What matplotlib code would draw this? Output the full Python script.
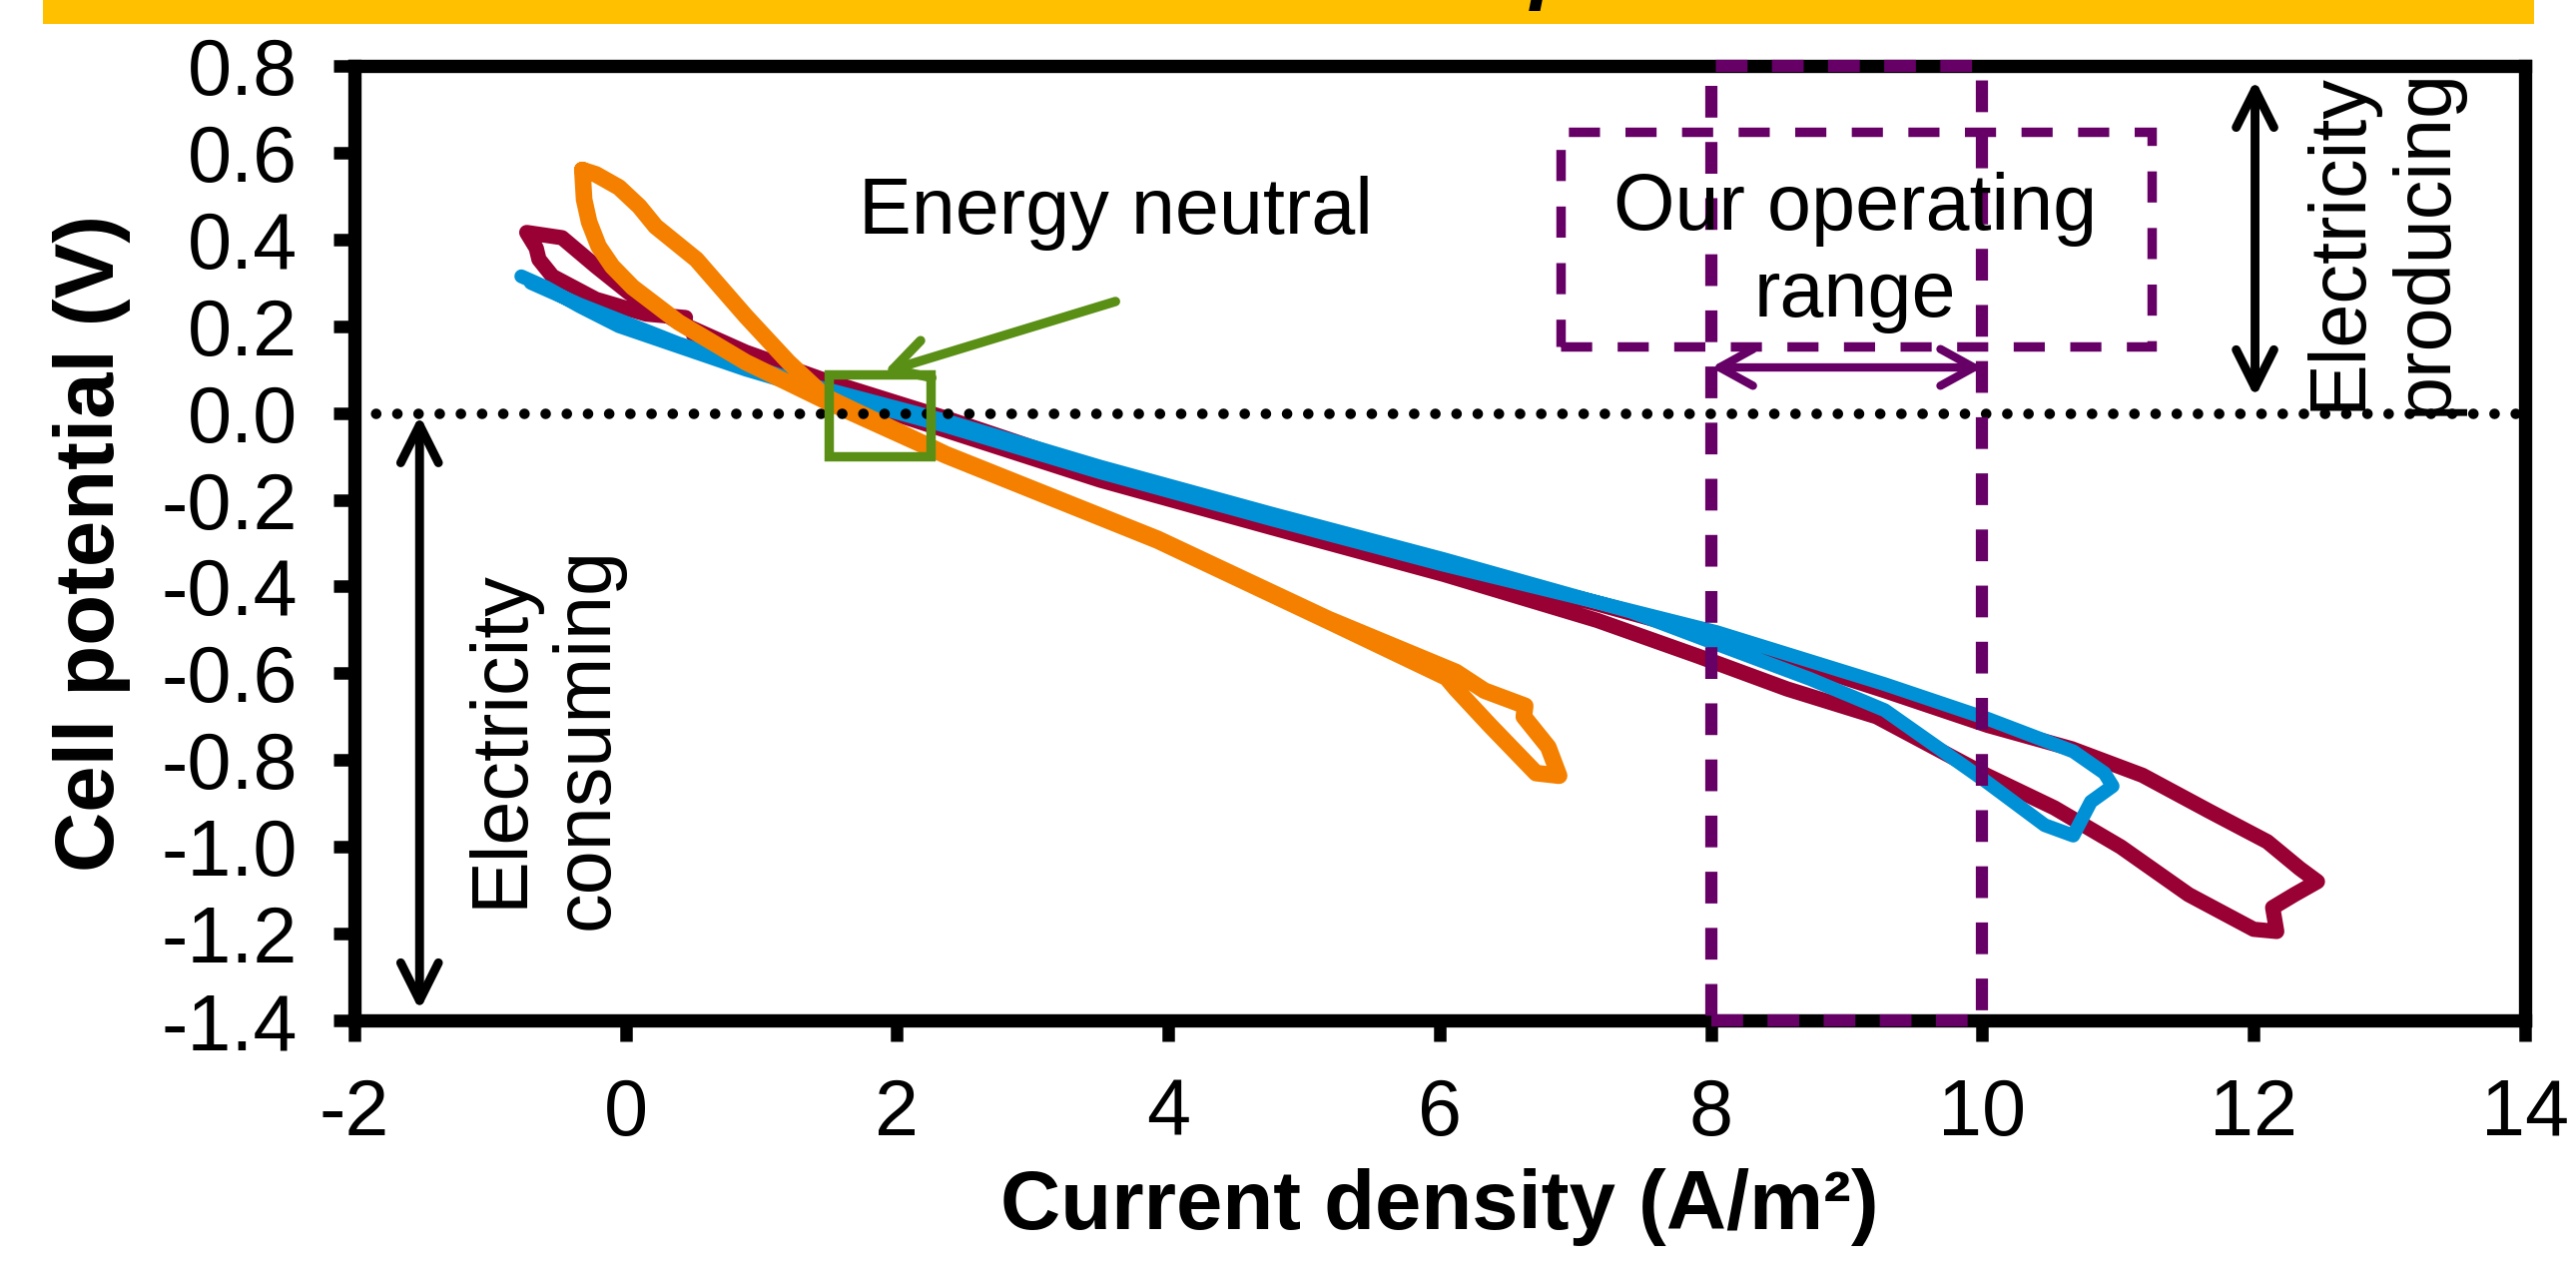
import numpy as np
import matplotlib.pyplot as plt
from matplotlib.patches import Rectangle, FancyArrowPatch

plt.rcParams['font.family'] = ['Liberation Sans', 'DejaVu Sans']
plt.rcParams['axes.unicode_minus'] = False

# ---- data ----
red_x = [0.44, 0.15, -0.22, -0.54, -0.64, -0.66, -0.73, -0.47, -0.22, 0.02, 0.39, 0.885, 1.47,
         2.36, 3.5, 4.76, 6.03, 7.16, 8.04, 9.28, 10.04, 10.66, 11.18, 11.68, 12.1, 12.34, 12.47,
         12.3, 12.14, 12.17, 12.0, 11.52, 11.02, 10.53, 10.03, 9.22, 8.56, 7.9, 7.16, 6.03, 4.76,
         3.5, 2.36, 1.47, 0.9, 0.5]
red_y = [0.22, 0.228, 0.262, 0.315, 0.354, 0.38, 0.416, 0.404, 0.338, 0.278, 0.209, 0.14, 0.075,
         -0.012, -0.132, -0.242, -0.348, -0.44, -0.515, -0.64, -0.72, -0.774, -0.835, -0.919, -0.988,
         -1.05, -1.08, -1.11, -1.14, -1.195, -1.19, -1.11, -1.0, -0.91, -0.835, -0.70, -0.636, -0.56,
         -0.478, -0.372, -0.264, -0.155, -0.04, 0.05, 0.12, 0.18]

blue_x = [-0.77, -0.59, -0.34, -0.05, 0.39, 0.885, 1.37, 2.36, 3.5, 4.76, 6.03, 7.16, 8.04, 9.28,
          10.04, 10.67, 10.9, 10.96, 10.8, 10.67, 10.46, 10.03, 9.28, 8.73, 8.14, 7.41, 6.03, 4.76,
          3.5, 2.36, 1.37, 0.39, -0.34, -0.7]
blue_y = [0.315, 0.29, 0.246, 0.2, 0.153, 0.10, 0.055, -0.03, -0.137, -0.245, -0.35, -0.436, -0.505,
          -0.625, -0.705, -0.78, -0.83, -0.86, -0.896, -0.974, -0.95, -0.85, -0.685, -0.613, -0.544,
          -0.458, -0.337, -0.232, -0.124, -0.018, 0.064, 0.16, 0.25, 0.30]

orange_x = [-0.32, -0.22, -0.05, 0.1, 0.22, 0.52, 0.885, 1.2, 1.47, 2.36, 3.92, 5.18, 6.12, 6.33,
            6.63, 6.62, 6.80, 6.88, 6.71, 6.37, 6.12, 6.05, 5.18, 3.92, 2.36, 1.47, 0.885, 0.39,
            0.05, -0.10, -0.2, -0.27, -0.307, -0.32]
orange_y = [0.56, 0.55, 0.52, 0.476, 0.43, 0.354, 0.223, 0.117, 0.038, -0.095, -0.29, -0.475,
            -0.597, -0.64, -0.675, -0.70, -0.77, -0.836, -0.83, -0.72, -0.636, -0.61, -0.48,
            -0.294, -0.098, 0.028, 0.117, 0.209, 0.29, 0.338, 0.384, 0.44, 0.492, 0.56]

x_ticks = [-2, 0, 2, 4, 6, 8, 10, 12, 14]
y_ticks = [-1.4, -1.2, -1.0, -0.8, -0.6, -0.4, -0.2, 0.0, 0.2, 0.4, 0.6, 0.8]

op_range = (8, 10)

RED = '#990033'
BLUE = '#0090D6'
ORANGE = '#F58000'
PURPLE = '#660066'
GREEN = '#5A8F16'
FS = 28.5

fig = plt.figure(figsize=(12.9, 6.37), dpi=200)

# yellow title banner (title itself is cut off above the picture)
fig.patches.append(Rectangle((43 / 2580, 1 - 24 / 1274), (2538 - 43) / 2580, 24 / 1274,
                             transform=fig.transFigure, fc='#FFC000', ec='none', zorder=0))
fig.text(0.594, 1 + 5.6 / 1274, 'p', fontsize=30, fontweight='bold', style='italic',
         va='baseline', ha='left', color='black')

ax = fig.add_axes([0.1376, 0.1978, 0.8426, 0.7504])

ax.plot(red_x, red_y, color=RED, lw=5.5, solid_joinstyle='round', solid_capstyle='round', zorder=3)
ax.plot(blue_x, blue_y, color=BLUE, lw=5.0, solid_joinstyle='round', solid_capstyle='round', zorder=3.1)
ax.plot(orange_x, orange_y, color=ORANGE, lw=6.0, solid_joinstyle='round', solid_capstyle='round', zorder=3.2)

# zero line
ax.plot([-2, 14], [0, 0], color='black', lw=3.8, ls=(0, (0.01, 2.0)),
        dash_capstyle='round', zorder=4)

ax.set_xlim(-2, 14)
ax.set_ylim(-1.4, 0.8)
ax.set_xticks(x_ticks)
ax.set_xticklabels([str(v) for v in x_ticks])
ax.set_yticks(y_ticks)
ax.set_yticklabels(['%.1f' % v for v in y_ticks])
ax.tick_params(direction='out', length=7.5, width=4.5, labelsize=FS, pad=13)
for s in ax.spines.values():
    s.set_linewidth(4.8)

ax.set_xlabel('Current density (A/m²)', fontsize=30, fontweight='bold')
ax.set_ylabel('Cell potential (V)', fontsize=30, fontweight='bold')
ax.xaxis.set_label_coords(0.5, -0.155)
ax.yaxis.set_label_coords(-0.103, 0.5)

# operating range: dashed band between 8 and 10
ax.add_patch(Rectangle((op_range[0], -1.4), op_range[1] - op_range[0], 2.2, fill=False,
                       ec=PURPLE, lw=4.4, ls=(0, (2.6, 2.0)), clip_on=False, zorder=6))
ax.add_patch(Rectangle((6.89, 0.153), 4.36, 0.495, fill=False, ec=PURPLE, lw=3.4,
                       ls=(0, (3.3, 2.7)), zorder=5))
ax.text(9.06, 0.37, 'Our operating\nrange', fontsize=FS, ha='center', va='center',
        linespacing=1.2, zorder=6)
ax.add_patch(FancyArrowPatch((op_range[0], 0.105), (op_range[1], 0.105),
                             arrowstyle='<->,head_length=0.4,head_width=0.22',
                             mutation_scale=30, color=PURPLE, lw=3.0, shrinkA=0, shrinkB=0, zorder=6))

# energy neutral box and arrow
ax.add_patch(Rectangle((1.497, -0.1), 0.753, 0.189, fill=False, ec=GREEN, lw=3.4, zorder=5))
ax.add_patch(FancyArrowPatch((3.61, 0.257), (1.9, 0.094),
                             arrowstyle='->,head_length=0.45,head_width=0.25',
                             mutation_scale=28, color=GREEN, lw=3.4, shrinkA=0, shrinkB=0, zorder=5))
ax.text(3.61, 0.46, 'Energy neutral', fontsize=FS, ha='center', va='center', zorder=6)

# electricity producing / consuming
ax.add_patch(FancyArrowPatch((12.01, 0.036), (12.01, 0.768),
                             arrowstyle='<->,head_length=0.4,head_width=0.2',
                             mutation_scale=34, color='black', lw=3.2, shrinkA=0, shrinkB=0, zorder=5))
ax.text(12.95, 0.395, 'Electricity\nproducing', fontsize=FS, rotation=90, ha='center',
        va='center', linespacing=1.2, zorder=6)
ax.add_patch(FancyArrowPatch((-1.52, -1.377), (-1.52, -0.005),
                             arrowstyle='<->,head_length=0.4,head_width=0.2',
                             mutation_scale=34, color='black', lw=3.2, shrinkA=0, shrinkB=0, zorder=5))
ax.text(-0.6, -0.75, 'Electricity\nconsuming', fontsize=FS, rotation=90, ha='center',
        va='center', linespacing=1.2, zorder=6)

fig.savefig('out.png', dpi=200)
